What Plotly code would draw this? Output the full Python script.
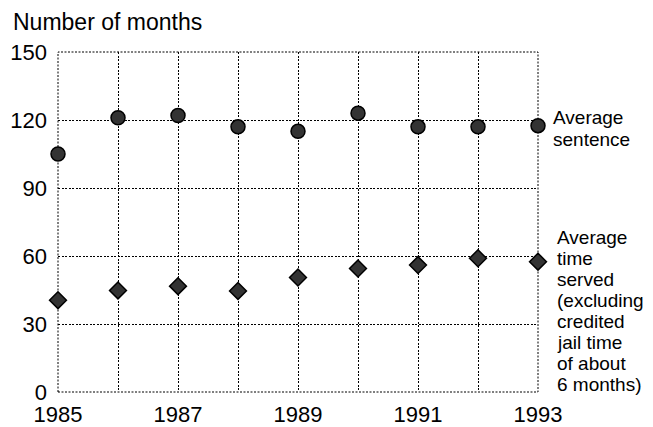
import plotly.graph_objects as go

years = [1985, 1986, 1987, 1988, 1989, 1990, 1991, 1992, 1993]
avg_sentence = [105, 121, 122, 117, 115, 123, 117, 117, 117.5]
avg_served = [40.5, 44.8, 46.7, 44.6, 50.5, 54.5, 56, 59, 57.5]
x_tick_labels = ["1985", "", "1987", "", "1989", "", "1991", "", "1993"]
y_ticks = [0, 30, 60, 90, 120, 150]

sentence_label = ["Average", "sentence"]
served_label = ["Average", "time", "served", "(excluding", "credited",
                "jail time", "of about", "6 months)"]

# the page body adds an 8px offset; size the figure to fill the 653x427 window
OFF = 8
WIN_W, WIN_H = 653, 427
PLOT_L, PLOT_R, PLOT_T, PLOT_B = 58, 538, 52, 392   # plot area in window pixels

W, H = WIN_W - OFF, WIN_H - OFF
L, R = PLOT_L - OFF, WIN_W - PLOT_R
T, B = PLOT_T - OFF, WIN_H - PLOT_B
FONT = "Liberation Sans, Arial, Helvetica, sans-serif"
DASH = "2px,1.5px"


def py(px):
    return (PLOT_B - px) / (PLOT_B - PLOT_T)


def pxx(px):
    return (px - PLOT_L) / (PLOT_R - PLOT_L)


fig = go.Figure()
fig.add_trace(go.Scatter(
    x=years, y=avg_sentence, mode="markers",
    marker=dict(symbol="circle", size=14, color="#333333",
                line=dict(color="#000000", width=1.5)),
    showlegend=False, cliponaxis=False))
fig.add_trace(go.Scatter(
    x=years, y=avg_served, mode="markers",
    marker=dict(symbol="diamond", size=13, color="#333333",
                line=dict(color="#000000", width=1.5)),
    showlegend=False, cliponaxis=False))

annotations = []
annotations.append(dict(text="Number of months", xref="paper", yref="paper",
                        x=pxx(11), y=py(22), xanchor="left", yanchor="middle",
                        showarrow=False, font=dict(size=23, color="#000", family=FONT)))
for i, t in enumerate(sentence_label):
    annotations.append(dict(text=t, xref="paper", yref="paper",
                            x=pxx(551), y=py(118 + i * 21), xanchor="left", yanchor="middle",
                            showarrow=False, font=dict(size=19, color="#000", family=FONT)))
for i, t in enumerate(served_label):
    annotations.append(dict(text=t, xref="paper", yref="paper",
                            x=pxx(555), y=py(237 + i * 21), xanchor="left", yanchor="middle",
                            showarrow=False, font=dict(size=19, color="#000", family=FONT)))

fig.update_layout(
    width=W, height=H,
    margin=dict(l=L, r=R, t=T, b=B, autoexpand=False),
    paper_bgcolor="white", plot_bgcolor="white",
    font=dict(family=FONT, color="#000"),
    annotations=annotations,
    shapes=[dict(type="rect", xref="paper", yref="paper", x0=0, x1=1, y0=0, y1=1,
                 line=dict(color="#000", width=1, dash=DASH), layer="below")],
    xaxis=dict(range=[1985, 1993], tickvals=years, ticktext=x_tick_labels,
               showgrid=True, gridcolor="#000", gridwidth=1, griddash=DASH,
               zeroline=False, showline=False, ticks="", automargin=False,
               tickfont=dict(size=22, family=FONT, color="#000"),
               ticklabelstandoff=7, fixedrange=True),
    yaxis=dict(range=[0, 150], tickvals=y_ticks,
               showgrid=True, gridcolor="#000", gridwidth=1, griddash=DASH,
               zeroline=False, showline=False, ticks="", automargin=False,
               tickfont=dict(size=22, family=FONT, color="#000"),
               ticklabelstandoff=10, fixedrange=True),
)

fig.write_html("out.html")
